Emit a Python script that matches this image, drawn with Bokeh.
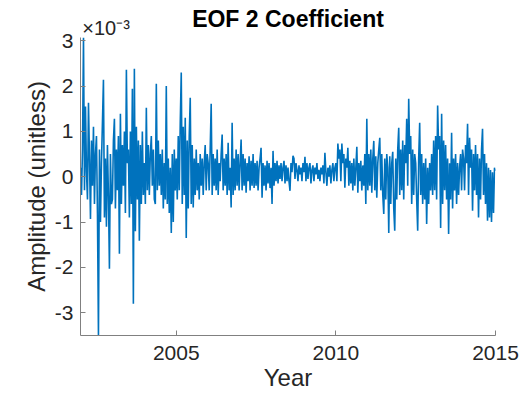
import math
from bokeh.plotting import figure
from bokeh.models import Range1d, FixedTicker, LinearAxis
from bokeh.embed import file_html
from bokeh.resources import INLINE

# ---- data (amplitude in units of 1e-3), one sample every 1/32 year from 2002.0 to 2015.0 ----
start_year = 2002.0
samples_per_year = 32
amplitude_e3 = [
    # 2002.0
    0.2, -0.4, 0.6, 3.07, -0.3, 1.55, 0.1, -0.5, 1.63, 0.4, -0.93, 0.8, -0.2, 1.1, -0.6, 0.5,
    # 2002.5
    0.9, -0.8, -3.5, 0.6, -1.0, 0.3, 1.2, 2.14, -0.9, 0.4, -1.1, 0.7, -0.4, -2.03, 0.5, -0.6,
    # 2003.0
    -0.5, 0.8, 1.28, -0.7, 0.6, -0.3, 0.9, -1.7, 1.39, -0.6, 0.7, -0.2, 1.0, -0.8, 2.36, 0.3,
    # 2003.5
    0.6, -0.9, 1.0, -0.6, 1.94, -2.8, 2.38, -1.2, 1.1, -0.5, 0.8, -1.41, 0.7, -0.6, 1.0, -0.4,
    # 2004.0
    0.3, -0.6, 1.52, -0.3, 0.7, -0.4, 0.5, 0.9, -0.2, 0.6, -0.5, -0.6, 2.05, -0.3, 0.8, -0.2,
    # 2004.5
    0.5, -0.4, 0.6, -0.7, 0.3, -0.5, 2.0, -0.6, 0.4, -0.8, 0.2, -1.24, 0.5, -1.0, 0.6, -0.3,
    # 2005.0
    0.4, -0.5, 0.9, -0.3, 1.2, 2.3, -0.6, 1.1, -0.4, 1.3, -1.35, 0.8, -0.7, 0.9, 1.74, -0.6,
    # 2005.5
    0.7, -0.68, 0.4, -0.4, 0.6, -0.3, 0.3, -0.5, 0.5, -0.2, 0.4, -0.4, 0.3, 0.7, -0.3, 0.5,
    # 2006.0
    0.3, -0.3, 0.6, 1.61, -0.4, 0.5, -0.2, 0.4, -0.3, 0.6, -0.4, 0.3, -0.1, 0.5, 0.93, -0.3,
    # 2006.5
    0.4, -0.2, 0.5, -0.4, 0.75, -0.3, 0.2, -0.68, 1.19, -0.4, 0.4, -0.3, 0.6, -0.2, 0.5, -0.3,
    # 2007.0
    0.3, 0.82, -0.3, 0.5, -0.2, 0.4, -0.35, 0.3, -0.1, 0.45, -0.3, 0.35, -0.2, 0.5, -0.25, 0.3,
    # 2007.5
    -0.2, 0.35, -0.3, 0.2, 0.4, 0.64, -0.46, 0.3, -0.2, 0.25, -0.3, 0.35, -0.15, 0.3, -0.25, 0.2,
    # 2008.0
    -0.6, 0.57, -0.2, 0.3, -0.1, 0.35, -0.15, 0.25, -0.05, 0.3, -0.1, 0.2, 0.35, -0.15, 0.25, -0.1,
    # 2008.5
    0.2, -0.1, -0.31, 0.3, 0.1, 0.46, 0.4, -0.05, 0.3, 0.15, -0.1, 0.25, 0.05, 0.2, -0.1, 0.3,
    # 2009.0
    0.1, 0.44, -0.1, 0.3, -0.05, 0.2, 0.3, -0.15, 0.15, 0.25, -0.1, 0.2, 0.05, 0.3, -0.05, 0.15,
    # 2009.5
    -0.1, 0.2, 0.05, 0.25, -0.15, 0.53, 0.1, -0.2, 0.2, 0.0, 0.25, -0.15, 0.15, 0.3, -0.1, 0.2,
    # 2010.0
    0.3, -0.1, 0.73, 0.4, 0.6, -0.1, 0.73, 0.3, 0.5, -0.24, 0.4, 0.2, 0.64, -0.2, 0.35, -0.15,
    # 2010.5
    0.3, -0.3, 0.4, -0.2, 0.2, 0.66, -0.35, 0.3, -0.1, 0.35, -0.3, 0.25, -0.2, 0.5, -0.6, 1.28,
    # 2011.0
    -0.3, 0.5, -0.2, 0.6, -0.35, 0.4, 0.79, -0.3, 0.45, -0.46, 0.3, 0.6, 0.86, -0.3, 0.5, -0.4,
    # 2011.5
    -0.82, 0.4, -0.5, 0.5, 0.2, -1.24, 0.45, -0.6, 0.3, 0.55, -0.7, -1.19, 0.4, -0.5, 0.6, 1.08,
    # 2012.0
    -0.4, 0.6, -0.3, 0.8, -0.5, 0.7, 0.3, 1.28, -0.2, 1.72, 0.5, 0.9, -0.6, 0.6, -0.4, 0.5,
    # 2012.5
    0.3, -0.5, -1.19, 0.4, 1.19, -0.4, 0.5, -0.6, 0.3, -0.5, 0.4, -1.04, 0.2, -0.6, 0.3, -0.3,
    # 2013.0
    0.5, -0.4, 0.8, -0.3, 0.9, -0.5, 1.57, 0.6, 0.9, -1.13, 1.39, -0.6, 0.8, -0.3, 0.7, -0.5,
    # 2013.5
    0.4, -1.26, 0.3, -0.5, 0.97, -0.7, 0.4, -0.3, 0.5, -0.6, 0.3, -0.4, 0.2, 0.5, -0.3, 0.6,
    # 2014.0
    0.4, -0.3, 0.7, 0.3, 1.17, -0.4, 0.86, 0.2, 0.6, -0.75, 0.5, -0.3, 0.7, -0.4, 0.5, -0.9,
    # 2014.5
    0.4, -0.5, 0.6, 1.06, -0.4, 0.5, -0.6, 0.3, -0.97, 0.2, -0.9, 0.15, -1.0, 0.1, -0.8, 0.2, 0.13,
]
years = [start_year + i / samples_per_year for i in range(len(amplitude_e3))]

x_ticks = [2005, 2010, 2015]
y_ticks = [-3, -2, -1, 0, 1, 2, 3]
y_tick_labels = {t: str(t) for t in y_ticks}

title_text = "EOF 2 Coefficient"
x_label = "Year"
y_label = "Amplitude (unitless)"
y_exponent = "\u00d710\u207b\u00b3"

# ---- figure ----
x0, x1 = years[0], years[-1]
y0, y1 = min(amplitude_e3), max(amplitude_e3)

FONT = "Liberation Sans"
AX = "#808080"
TXT = "#262626"

p = figure(width=526, height=397, output_backend="svg", toolbar_location=None,
           title_location=None,
           x_range=Range1d(x0, x1), y_range=Range1d(y0, y1),
           min_border_left=80, min_border_right=31, min_border_top=37, min_border_bottom=62)
p.outline_line_color = None
p.grid.visible = False
p.background_fill_color = "white"
p.border_fill_color = "white"

p.line(years, amplitude_e3, line_color="#0072BD", line_width=1.6)

for ax in (p.xaxis[0], p.yaxis[0]):
    ax.axis_line_color = AX
    ax.axis_line_width = 1
    ax.major_tick_line_color = AX
    ax.major_tick_in = 5
    ax.major_tick_out = 0
    ax.minor_tick_line_color = None
    ax.major_label_text_font = FONT
    ax.major_label_text_font_size = "21px"
    ax.major_label_text_color = TXT
    ax.axis_label_text_font = FONT
    ax.axis_label_text_font_size = "24px"
    ax.axis_label_text_font_style = "normal"
    ax.axis_label_text_color = TXT

p.xaxis[0].ticker = FixedTicker(ticks=x_ticks)
p.xaxis[0].major_label_standoff = 10
p.xaxis[0].axis_label = x_label
p.xaxis[0].axis_label_standoff = 1
p.yaxis[0].ticker = FixedTicker(ticks=y_ticks)
p.yaxis[0].major_label_overrides = y_tick_labels
p.yaxis[0].major_label_standoff = 7
p.yaxis[0].axis_label = y_label
p.yaxis[0].axis_label_standoff = 2

# top band: y-axis exponent (as the single label of a bare top axis) and the title
exp_pos = x0 + 0.8
top = LinearAxis(ticker=FixedTicker(ticks=[exp_pos]),
                 major_label_overrides={exp_pos: y_exponent},
                 axis_line_color=None, major_tick_line_color=None, minor_tick_line_color=None,
                 major_tick_in=0, major_tick_out=0,
                 major_label_standoff=-1,
                 major_label_text_font=FONT, major_label_text_font_size="20px",
                 major_label_text_color=TXT,
                 axis_label=title_text, axis_label_standoff=-18,
                 axis_label_text_font=FONT, axis_label_text_font_size="23px",
                 axis_label_text_font_style="bold", axis_label_text_color="black")
p.add_layout(top, "above")

open("out.html", "w").write(file_html(p, INLINE))
